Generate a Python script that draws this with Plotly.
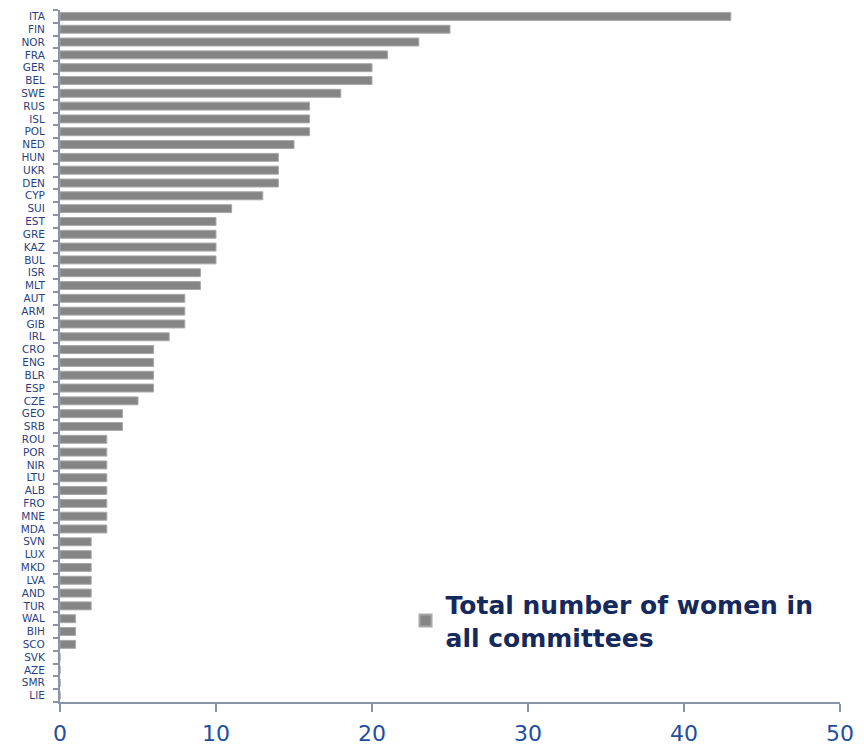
import plotly.graph_objects as go

countries = ["ITA", "FIN", "NOR", "FRA", "GER", "BEL", "SWE", "RUS", "ISL", "POL",
             "NED", "HUN", "UKR", "DEN", "CYP", "SUI", "EST", "GRE", "KAZ", "BUL",
             "ISR", "MLT", "AUT", "ARM", "GIB", "IRL", "CRO", "ENG", "BLR", "ESP",
             "CZE", "GEO", "SRB", "ROU", "POR", "NIR", "LTU", "ALB", "FRO", "MNE",
             "MDA", "SVN", "LUX", "MKD", "LVA", "AND", "TUR", "WAL", "BIH", "SCO",
             "SVK", "AZE", "SMR", "LIE"]
women = [43, 25, 23, 21, 20, 20, 18, 16, 16, 16,
         15, 14, 14, 14, 13, 11, 10, 10, 10, 10,
         9, 9, 8, 8, 8, 7, 6, 6, 6, 6,
         5, 4, 4, 3, 3, 3, 3, 3, 3, 3,
         3, 2, 2, 2, 2, 2, 2, 1, 1, 1,
         0, 0, 0, 0]
x_ticks = [0, 10, 20, 30, 40, 50]
series_name = "Total number of women in<br>all committees"

fig = go.Figure()
fig.add_trace(go.Bar(
    x=women, y=countries, orientation="h", name=series_name,
    marker=dict(color="#858585", line=dict(color="#a8a8a8", width=1)),
    showlegend=True,
))

fig.update_layout(
    width=864, height=749,
    margin=dict(l=60, r=24, t=10, b=47),
    paper_bgcolor="white", plot_bgcolor="white",
    bargap=0.38,
    showlegend=True,
    legend=dict(
        x=0.443, y=0.174, xanchor="left", yanchor="top",
        font=dict(family="DejaVu Sans", size=25, color="#16295c", weight="bold"),
        bgcolor="rgba(0,0,0,0)", itemsizing="constant",
        tracegroupgap=0, itemwidth=30,
    ),
    xaxis=dict(
        range=[0, 50], tickvals=x_ticks, ticks="outside", ticklen=8, tickwidth=2,
        tickcolor="#8a93a8", showline=True, linecolor="#8a93a8", linewidth=2,
        showgrid=False, zeroline=False, automargin=False,
        tickfont=dict(family="Verdana, DejaVu Sans", size=22, color="#1f4f9c"),
        ticklabelstandoff=3,
    ),
    yaxis=dict(
        categoryorder="array", categoryarray=countries, autorange="reversed",
        tickmode="array", tickvals=countries, ticktext=countries,
        ticks="outside", ticklen=5, tickwidth=1.5, tickcolor="#8a93a8",
        tickson="boundaries", automargin=False,
        showline=True, linecolor="#8a93a8", linewidth=2, showgrid=False,
        tickfont=dict(family="DejaVu Sans", size=10.5, color="#2a3f80"),
        ticklabelstandoff=11,
    ),
)

fig.write_html(
    "out.html",
    config={"displayModeBar": False},
    post_script="document.body.style.margin='0';document.body.style.overflow='hidden';",
)
